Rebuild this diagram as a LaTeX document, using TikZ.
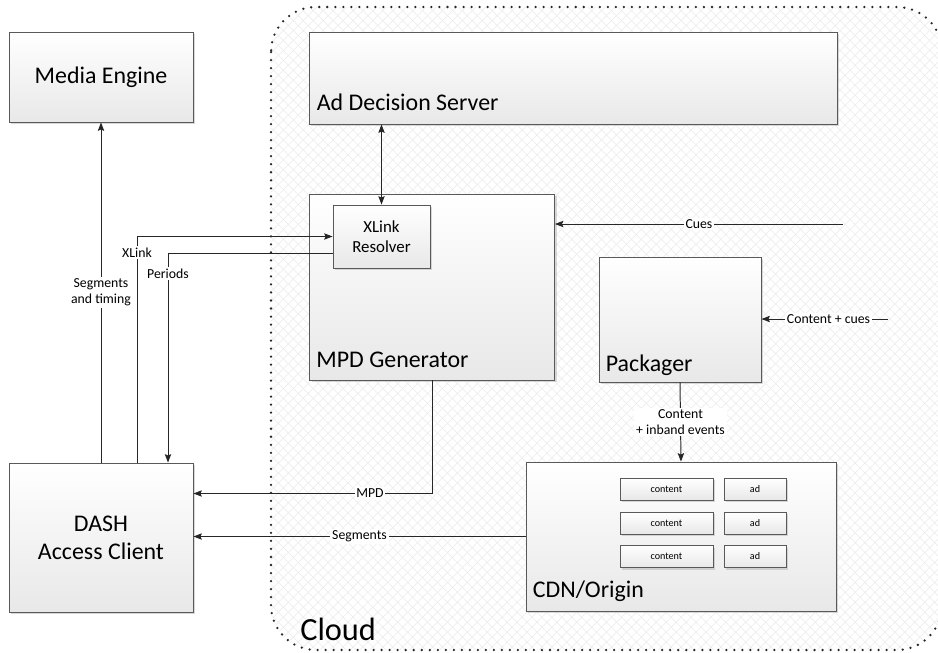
\documentclass[tikz,border=0pt]{standalone}
\usepackage{fontspec}
\setmainfont{Carlito}
\usetikzlibrary{arrows.meta,shadows,patterns.meta}
\newlength{\px}\setlength{\px}{0.025cm}
\tikzset{
  dims/.style 2 args={minimum width=#1*\px, minimum height=#2*\px},
  box/.style={draw=black!65, line width=0.6pt, top color=white, bottom color=black!9,
    drop shadow={shadow xshift=1.5pt, shadow yshift=-1.5pt, fill=black!30, opacity=0.5},
    inner sep=0pt},
  smallbox/.style={box, font=\fontsize{7.2}{8.5}\selectfont},
  bigtxt/.style={font=\fontsize{17}{20}\selectfont},
  boxtitle/.style={anchor=base west, inner sep=0pt, bigtxt},
  lbl/.style={fill=white, inner sep=1.2pt, align=center, font=\fontsize{9.8}{11.5}\selectfont},
  arr/.style={draw=black!85, line width=0.7pt, -{Stealth[length=6pt, width=4.5pt, inset=1pt]}},
  arrboth/.style={arr, {Stealth[length=6pt, width=4.5pt, inset=1pt]}-{Stealth[length=6pt, width=4.5pt, inset=1pt]}},
  cloudline/.style={draw=black!85, line width=1.8pt, dash pattern=on 0pt off 5.7pt, line cap=round}
}
\begin{document}
\begin{tikzpicture}[x=0.025cm, y=-0.025cm]
\useasboundingbox (0,0) rectangle (938,652);

\fill[rounded corners=1.125cm, pattern={Lines[angle=45, distance=5pt, line width=0.5pt]}, pattern color=black!7] (271,7) rectangle (942,650);
\fill[rounded corners=1.125cm, pattern={Lines[angle=-45, distance=5pt, line width=0.5pt]}, pattern color=black!7] (271,7) rectangle (942,650);
\draw[cloudline, rounded corners=1.125cm] (271,7) rectangle (942,650);
\node[anchor=base west, inner sep=0pt, font=\fontsize{23}{27}\selectfont] (cloudtitle) at (300,640) {Cloud};

\node[box, bigtxt, dims={184}{90}] (media) at (101,77) {Media Engine};
\node[box, bigtxt, dims={184}{149}, align=center] (dash) at (101,537.5) {DASH\\Access Client};

\node[box, dims={528}{92}] (ads) at (573,78) {};
\node[boxtitle] (adstitle) at ([shift={(8,-14)}]ads.south west) {Ad Decision Server};

\node[box, dims={245}{186}] (mpd) at (432,287) {};
\node[boxtitle] (mpdtitle) at ([shift={(7,-13)}]mpd.south west) {MPD Generator};
\node[box, dims={97}{63}, align=center, font=\fontsize{12}{14}\selectfont] (xlink) at (381.5,236.5) {XLink\\Resolver};

\node[box, dims={162}{125}] (pack) at (680,319.5) {};
\node[boxtitle] (packtitle) at ([shift={(7,-11)}]pack.south west) {Packager};

\node[box, dims={310}{149}] (cdn) at (681,536.5) {};
\node[boxtitle] (cdntitle) at ([shift={(7,-14)}]cdn.south west) {CDN/Origin};
\foreach \y [count=\i] in {489,523,556.5}
{
	\node[smallbox, dims={93}{22}] (content\i) at (666.5,\y) {content};
	\node[smallbox, dims={62}{22}] (ad\i) at (755,\y) {ad};
}

\draw[arr] (dash.north) -- (media.south) node[lbl, midway] {Segments\\and timing};
\draw[arr] ([shift={(36,0)}]dash.north) |- (xlink.west) node[lbl, pos=0.465] {XLink};
\draw[arr] ([shift={(0,-15)}]xlink.south west) -| ([shift={(67,0)}]dash.north) node[lbl, pos=0.548] {Periods};
\draw[arrboth] (ads.south -| xlink.north) -- (xlink.north);

\coordinate (cuesin) at (843,224);
\draw[arr] (cuesin) -- (cuesin -| mpd.east) node[lbl, midway] {Cues};
\coordinate (ccin) at (888,319);
\draw[arr] (ccin) -- (ccin -| pack.east) node[lbl, pos=0.47] {Content + cues};
\draw[arr] (pack.south) -- (cdn.north) node[lbl, midway] {Content\\+ inband events};

\draw[arr] (mpd.south) |- ([shift={(0,-44)}]dash.east) node[lbl, pos=0.63] {MPD};
\draw[arr] (cdn.west) -- (cdn.west -| dash.east) node[lbl, midway] {Segments};
\end{tikzpicture}
\end{document}
